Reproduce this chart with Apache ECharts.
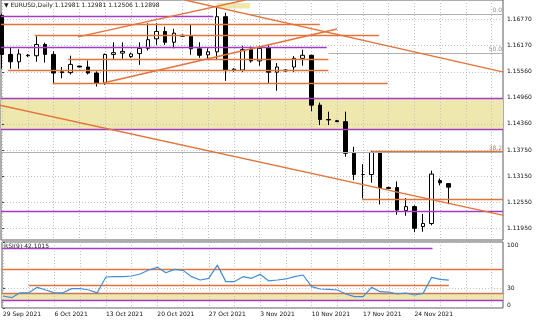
<!DOCTYPE html>
<html><head><meta charset="utf-8">
<script src="https://cdn.jsdelivr.net/npm/echarts@6/dist/echarts.min.js"></script>
<style>html,body{margin:0;padding:0;background:#fff}#c{width:536px;height:320px}</style>
</head><body><div id="c"></div>
<script>
// ---------- DATA ----------
const dates = ['29 Sep 2021','30 Sep 2021','1 Oct 2021','3 Oct 2021','4 Oct 2021','5 Oct 2021','6 Oct 2021','7 Oct 2021','8 Oct 2021','10 Oct 2021',
 '11 Oct 2021','12 Oct 2021','13 Oct 2021','14 Oct 2021','15 Oct 2021','17 Oct 2021','18 Oct 2021','19 Oct 2021','20 Oct 2021','21 Oct 2021',
 '22 Oct 2021','24 Oct 2021','25 Oct 2021','26 Oct 2021','27 Oct 2021','28 Oct 2021','29 Oct 2021','31 Oct 2021','1 Nov 2021','2 Nov 2021',
 '3 Nov 2021','4 Nov 2021','5 Nov 2021','7 Nov 2021','8 Nov 2021','9 Nov 2021','10 Nov 2021','11 Nov 2021','12 Nov 2021','14 Nov 2021',
 '15 Nov 2021','16 Nov 2021','17 Nov 2021','18 Nov 2021','19 Nov 2021','21 Nov 2021','22 Nov 2021','23 Nov 2021','24 Nov 2021','25 Nov 2021',
 '26 Nov 2021','28 Nov 2021','29 Nov 2021'];
const opens  = [1.1686,1.1596,1.1579,1.1594,1.1593,1.1619,1.1596,1.1556,1.1554,1.1569,
 1.1567,1.1553,1.1530,1.1596,1.1599,1.1591,1.1598,1.1610,1.1632,1.1649,
 1.1624,1.1640,1.1638,1.1609,1.1595,1.1602,1.1683,1.1560,1.1560,1.1607,
 1.1581,1.1612,1.1555,1.1560,1.1567,1.1587,1.1594,1.1479,1.1446,1.1443,
 1.1441,1.1368,1.1319,1.1319,1.1370,1.1289,1.1289,1.1236,1.1245,1.1199,
 1.1206,1.1305,1.12981];
const highs  = [1.1690,1.1611,1.1608,1.1597,1.1638,1.1623,1.1603,1.1567,1.1593,1.1570,
 1.1582,1.1557,1.1598,1.1624,1.1624,1.1600,1.1624,1.1668,1.1668,1.1660,
 1.1655,1.1642,1.1664,1.1624,1.1610,1.1705,1.1692,1.1564,1.1616,1.1614,
 1.1616,1.1617,1.1576,1.1562,1.1592,1.1607,1.1595,1.1485,1.1464,1.1445,
 1.1464,1.1383,1.1343,1.1374,1.1374,1.1291,1.1303,1.1265,1.1248,1.1228,
 1.1328,1.1310,1.12981];
const lows   = [1.1563,1.1563,1.1563,1.1590,1.1579,1.1577,1.1529,1.1541,1.1550,1.1566,
 1.1550,1.1522,1.1526,1.1585,1.1586,1.1588,1.1572,1.1605,1.1618,1.1618,
 1.1610,1.1636,1.1595,1.1588,1.1585,1.1585,1.1535,1.1556,1.1555,1.1577,
 1.1570,1.1530,1.1512,1.1556,1.1555,1.1570,1.1465,1.1433,1.1433,1.1440,
 1.1360,1.1306,1.1264,1.1300,1.1250,1.1286,1.1226,1.1224,1.1186,1.1187,
 1.1202,1.1294,1.12506];
const closes = [1.1596,1.1579,1.1597,1.1593,1.1619,1.1596,1.1553,1.1554,1.1573,1.1567,
 1.1553,1.1530,1.1596,1.1600,1.1603,1.1597,1.1610,1.1630,1.1649,1.1624,
 1.1645,1.1638,1.1609,1.1594,1.1602,1.1683,1.1559,1.1562,1.1607,1.1581,
 1.1610,1.1555,1.1567,1.1558,1.1587,1.1594,1.1479,1.1446,1.1445,1.1441,
 1.1368,1.1319,1.1319,1.1370,1.1289,1.1287,1.1237,1.1245,1.1195,1.1206,
 1.1320,1.1300,1.12898];
const rsiValues = [18.2,15.6,23,23,31.3,27.3,23,23,29.3,29.5,
 27.3,23,47,47.5,47.5,48.5,51.5,57.6,61.6,53.5,
 58.6,57,47.5,42.4,45,65,40,40,47.5,45,
 51,41,42.4,44,47.5,50,32.3,28.8,28.3,27.3,
 21.2,17.2,17.2,31.3,24.7,24.2,21.2,22.7,19.7,22.2,
 46.5,43.4,42.1];
const priceTicks = [1.1677,1.1617,1.1556,1.1496,1.1436,1.1375,1.1315,1.1255,1.1195];
const dateTickBars = [0,6,12,18,24,30,36,42,48];
const gridBars = [0,3,6,9,12,15,18,21,24,27,30,33,36,39,42,45,48,51,54,57];
const rsiTicks = [0,30,100];
const rsiGridLevels = [0,30,100];
const lastPrice = 1.12898;
const rsiMarkLevel = 71.6867;
const titleText = 'EURUSD,Daily 1.12981 1.12981 1.12506 1.12898';
const rsiTitle = 'RSI(9) 42.1015';
// drawn objects: [price, fromBar, toBar] (null = chart edge)
const orangeLevels = [[1.16662,null,37.0],[1.16408,3.8,43.9],[1.15854,7.7,38.0],[1.15601,0.7,38.0],[1.15301,5.9,44.9],[1.13733,43.0,null],[1.12626,41.9,null]];
const purpleLevels = [[1.16842,null,24.6],[1.16131,null,37.8],[1.1495,null,null],[1.1424,null,null],[1.12349,null,null]];
const fibLevels = [[1.16888,28.5,null],[1.15981,38.0,null],[1.1371,null,null]];
const fibTexts = ['0.0','50.0','38.2'];
const mainZone = [1.1424,1.1495];
const topPatch = [25.0,1.17146,28.9,1.17019];
// trendlines: [bar1, price1, bar2, price2]
const trendlines = [[-0.3,1.1479,58.4,1.12250],[21.3,1.17215,58.4,1.15550],[11.76,1.15301,39.0,1.16546],[8.85,1.16362,28.3,1.17215]];
const rsiPurple = [[90.5,null,50.1],[11.1,null,null]];
const rsiOrange = [[59.1,null,null],[33.8,3,52]];
const rsiBrown = [[22.3,null,null]];
const rsiZone = [11.1,22.3];

// ---------- LAYOUT / STYLE ----------
const X_MIN = -0.116, X_MAX = 58.32;
const P_MIN = 1.1168, P_MAX = 1.17215;
const FONT = '"DejaVu Sans", sans-serif';
const FS = 6;
const ORANGE = '#E2733A', PURPLE = '#A03CC6', FIBGRAY = '#B0B0B0', BAND = '#EFE8AE', GRIDC = '#C2C2C2', BROWN = '#C9765A', ROSY = '#D9A394';

function seg(level, style, label) {
  const a = {coord:[level[1]==null?X_MIN:level[1], level[0]], lineStyle:style};
  if (label) a.label = label;
  return [a, {coord:[level[2]==null?X_MAX:level[2], level[0]]}];
}

const mainMarks = [];
orangeLevels.forEach(l => mainMarks.push(seg(l, {color:ORANGE, width:1.3, type:'solid'})));
purpleLevels.forEach(l => mainMarks.push(seg(l, {color:PURPLE, width:1.3, type:'solid'})));
fibLevels.forEach((l,i) => mainMarks.push(seg(l, {color:FIBGRAY, width:1.2, type:'solid'},
  {show:true, position:'insideEndTop', formatter:fibTexts[i], color:'#A08C7C', fontSize:FS, fontFamily:FONT, distance:1})));
mainMarks.push([{yAxis:lastPrice, lineStyle:{color:'#A8A8A8', width:1, type:'solid'},
  label:{show:true, position:'end', formatter:lastPrice.toFixed(5), backgroundColor:'#000', color:'#fff', padding:[2,2,1,2], fontSize:FS, fontFamily:FONT, distance:1}},
  {yAxis:lastPrice}]);

const rsiMarks = [];
rsiPurple.forEach(l => rsiMarks.push(seg(l, {color:PURPLE, width:1.3, type:'solid'})));
rsiOrange.forEach(l => rsiMarks.push(seg(l, {color:ORANGE, width:1.3, type:'solid'})));
rsiBrown.forEach(l => rsiMarks.push(seg(l, {color:BROWN, width:1.3, type:'solid'})));
rsiMarks.push([{yAxis:rsiMarkLevel, lineStyle:{color:ROSY, width:1.4, type:'solid'},
  label:{show:true, position:'end', formatter:String(rsiMarkLevel), backgroundColor:'#E8201A', color:'#fff', padding:[2,2,1,2], fontSize:FS, fontFamily:FONT, distance:1}},
  {yAxis:rsiMarkLevel}]);

const candleData = opens.map((o,i) => [i, o, closes[i], lows[i], highs[i]]);

const series = [
  {type:'candlestick', xAxisIndex:0, yAxisIndex:0, data:candleData, encode:{x:0, y:[1,2,3,4]},
   barWidth:4, z:3, silent:true,
   itemStyle:{color:'#fff', color0:'#000', borderColor:'#000', borderColor0:'#000', borderWidth:1},
   markArea:{silent:true, z:1, itemStyle:{color:BAND}, data:[
     [{yAxis:mainZone[0]},{yAxis:mainZone[1]}],
     [{coord:[topPatch[0],topPatch[1]]},{coord:[topPatch[2],topPatch[3]]}]
   ]},
   markLine:{silent:true, z:4, symbol:['none','none'], animation:false, label:{show:false}, data:mainMarks}
  },
  {type:'line', xAxisIndex:1, yAxisIndex:1, data:rsiValues.map((v,i)=>[i,v]), symbol:'none', z:5, silent:true,
   lineStyle:{color:'#3E8FD8', width:1.2},
   markArea:{silent:true, z:1, itemStyle:{color:BAND}, data:[[{yAxis:rsiZone[0]},{yAxis:rsiZone[1]}]]},
   markLine:{silent:true, z:4, symbol:['none','none'], animation:false, label:{show:false}, data:rsiMarks}
  }
];
trendlines.forEach(t => series.push({type:'line', xAxisIndex:0, yAxisIndex:0, data:[[t[0],t[1]],[t[2],t[3]]],
  symbol:'none', clip:true, silent:true, z:4, lineStyle:{color:ORANGE, width:1.3}}));

const splitStyle = {show:true, lineStyle:{color:GRIDC, type:[1,2], width:1}};

const option = {
  animation:false,
  backgroundColor:'#fff',
  grid:[{left:1, top:0, width:502, height:240, show:true, borderColor:'#5a5a5a', borderWidth:1},
        {left:1, top:242, width:502, height:66, show:true, borderColor:'#5a5a5a', borderWidth:1}],
  xAxis:[
    {gridIndex:0, type:'value', min:X_MIN, max:X_MAX, z:2, axisLine:{show:false}, axisLabel:{show:false},
     axisTick:{show:false, customValues:gridBars}, splitLine:splitStyle},
    {gridIndex:1, type:'value', min:X_MIN, max:X_MAX, z:2, axisLine:{show:false},
     axisLabel:{show:true, customValues:dateTickBars, formatter:v=>dates[Math.round(v)], align:'left', fontSize:FS, fontFamily:FONT, color:'#111', margin:3},
     axisTick:{show:false, customValues:gridBars}, splitLine:splitStyle}
  ],
  yAxis:[
    {gridIndex:0, type:'value', position:'right', min:P_MIN, max:P_MAX, z:2, axisLine:{show:false},
     axisLabel:{customValues:priceTicks, formatter:v=>v.toFixed(5), fontSize:FS, fontFamily:FONT, color:'#111', margin:4},
     axisTick:{show:true, length:2, customValues:priceTicks, lineStyle:{color:'#444'}}, splitLine:splitStyle},
    {gridIndex:1, type:'value', position:'right', min:0, max:100, z:2, axisLine:{show:false},
     axisLabel:{customValues:rsiTicks, fontSize:FS, fontFamily:FONT, color:'#111', margin:4, verticalAlignMaxLabel:'top', verticalAlignMinLabel:'bottom'},
     axisTick:{show:true, length:2, customValues:rsiGridLevels, lineStyle:{color:'#444'}}, splitLine:splitStyle}
  ],
  graphic:[
    {type:'text', left:4, top:2, z:20, style:{text:'\u25BC '+titleText, fontSize:FS, fontFamily:FONT, fill:'#222'}},
    {type:'text', left:4, top:243, z:20, style:{text:rsiTitle, fontSize:FS, fontFamily:FONT, fill:'#222'}}
  ],
  series:series
};
const chart = echarts.init(document.getElementById('c'), null, {renderer:'canvas'});
chart.setOption(option);
</script></body></html>
